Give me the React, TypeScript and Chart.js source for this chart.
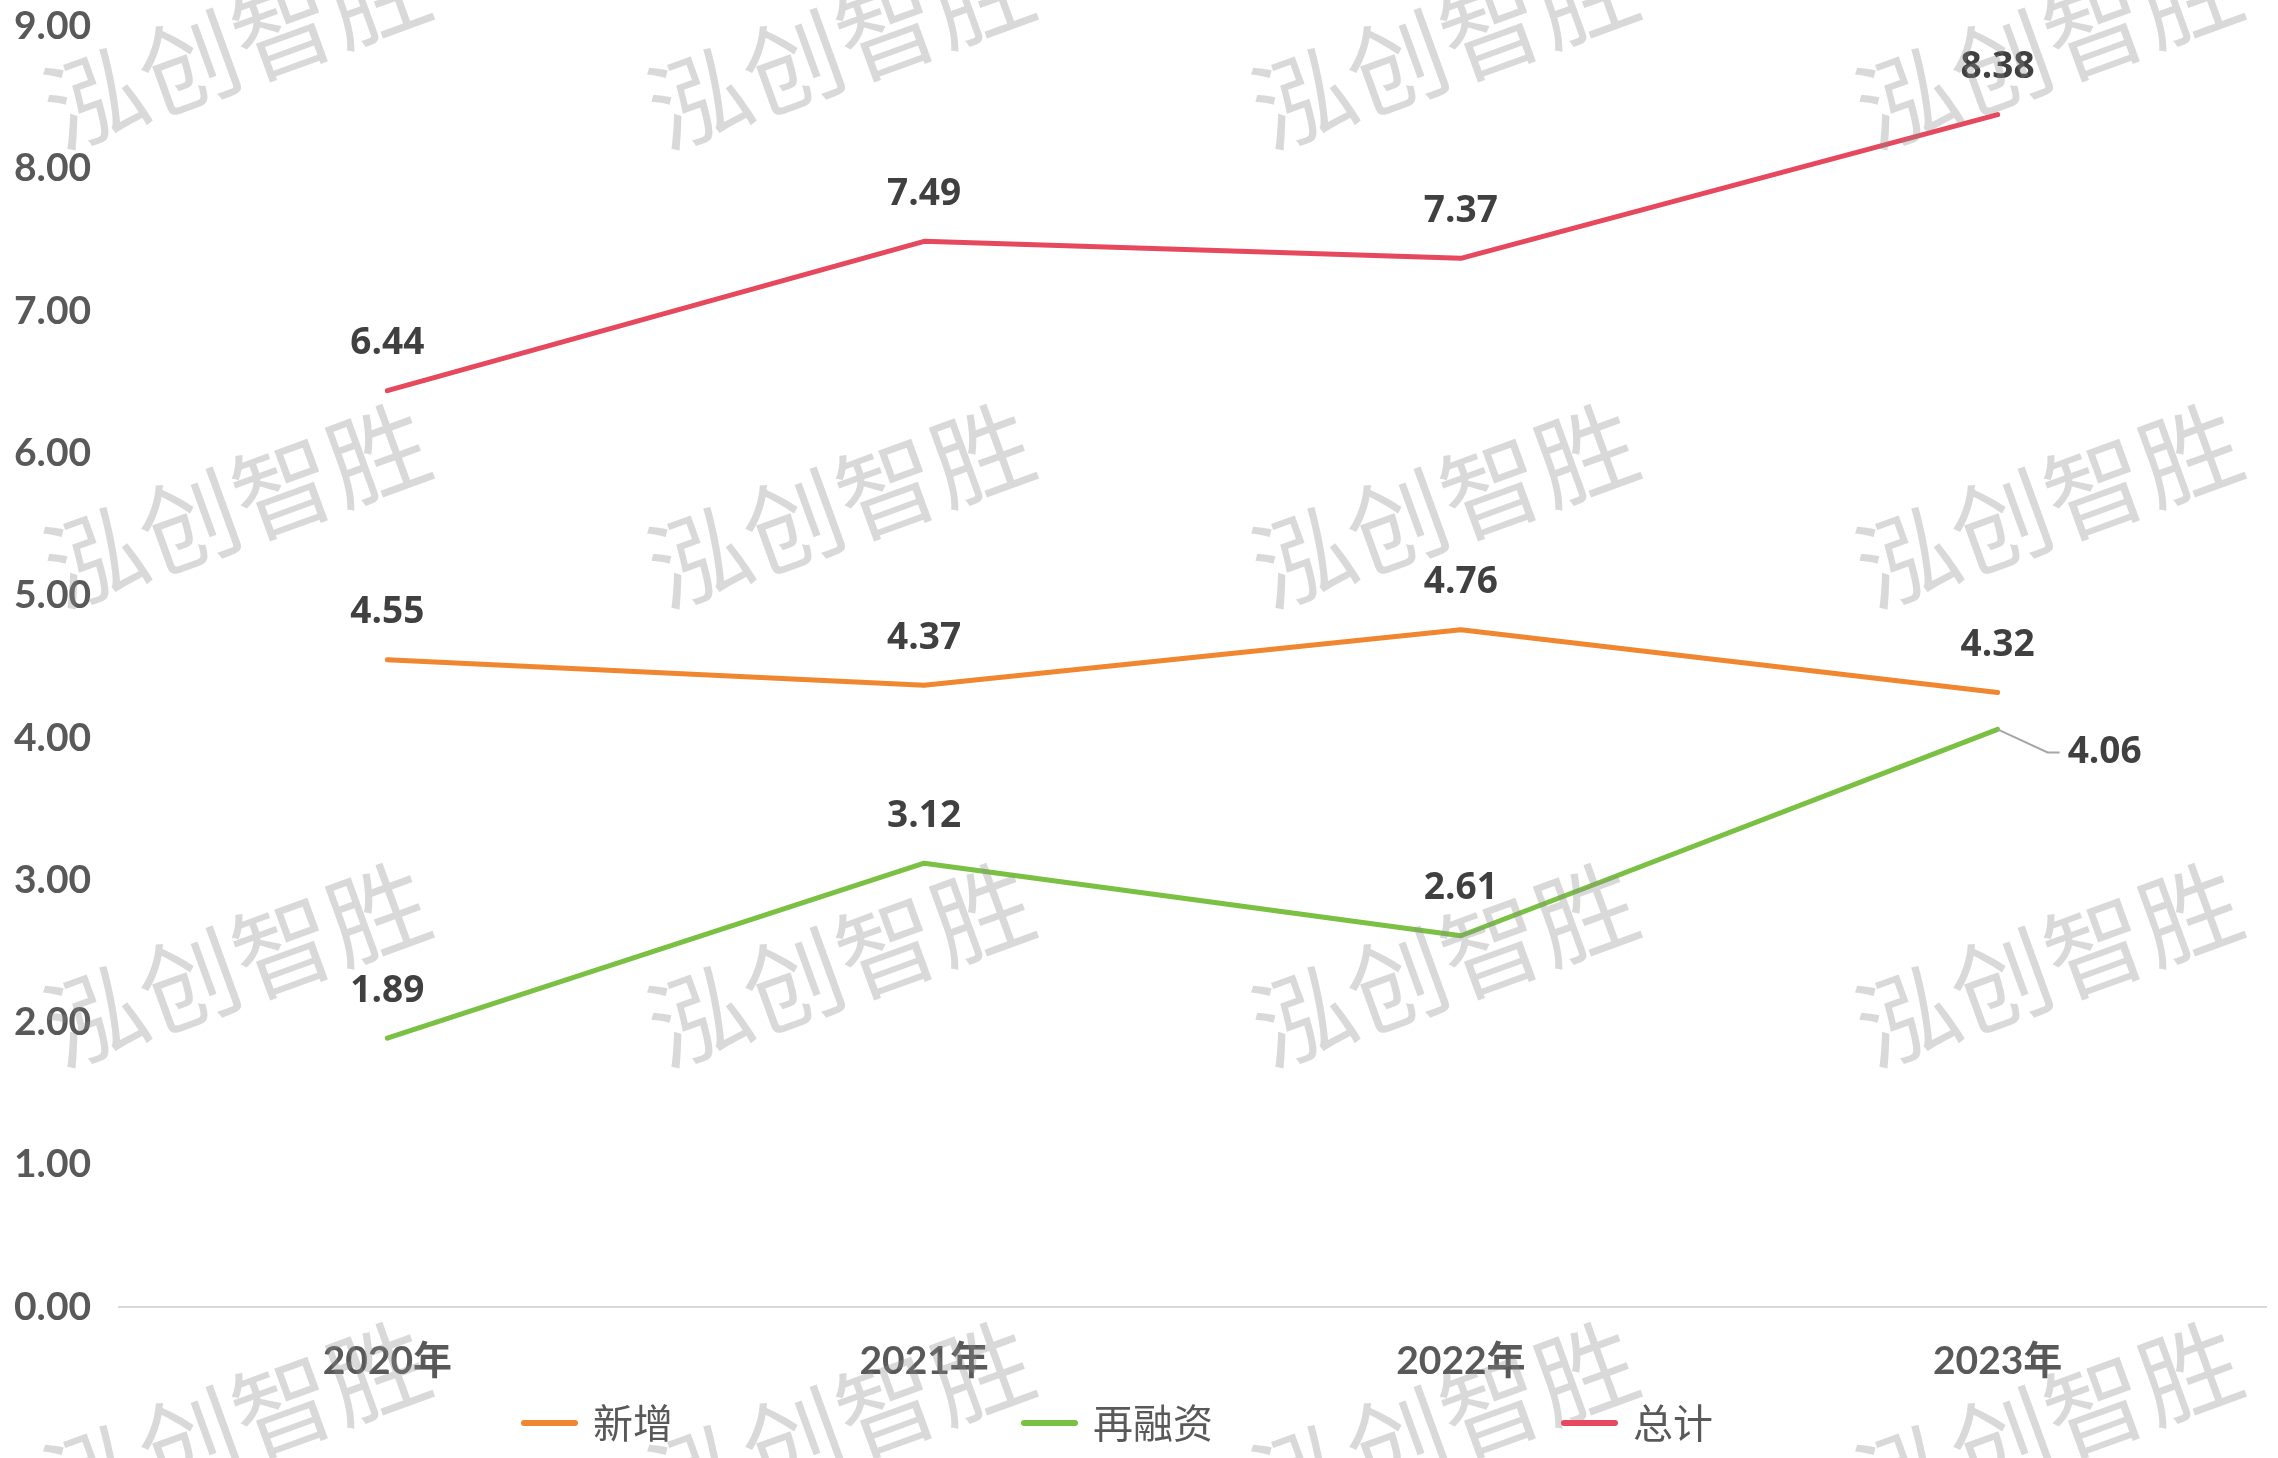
import { useEffect, useRef } from "react"
import { Chart, registerables } from "chart.js"

Chart.register(...registerables)

// 年份
const years = ["2020年", "2021年", "2022年", "2023年"]
// 新增
const newAdded = [4.55, 4.37, 4.76, 4.32]
// 再融资
const refinance = [1.89, 3.12, 2.61, 4.06]
// 总计
const total = [6.44, 7.49, 7.37, 8.38]

const seriesNames = ["新增", "再融资", "总计"]
const seriesColors = ["#F0862F", "#7AC042", "#E6485E"]

const watermarkText = "泓创智胜"

const numFont = "'Open Sans', 'DejaVu Sans', sans-serif"
const axisFont = "Lato, 'Noto Sans CJK SC', sans-serif"
const cjkFont = "'Noto Sans CJK SC', sans-serif"

// value labels above each point; the last 再融资 label sits to the right with a leader line
const valueLabels = {
  id: "valueLabels",
  afterDatasetsDraw(chart: Chart) {
    const ctx = chart.ctx
    ctx.save()
    ctx.font = `bold 37px ${numFont}`
    ctx.fillStyle = "#404040"
    ctx.textBaseline = "middle"
    chart.data.datasets.forEach((ds, i) => {
      const meta = chart.getDatasetMeta(i)
      meta.data.forEach((pt, j) => {
        const v = ds.data[j] as number
        const text = v.toFixed(2)
        if (i === 1 && j === ds.data.length - 1) {
          ctx.strokeStyle = "#A6A6A6"
          ctx.lineWidth = 2
          ctx.beginPath()
          ctx.moveTo(pt.x, pt.y)
          ctx.lineTo(pt.x + 50, pt.y + 23)
          ctx.lineTo(pt.x + 62, pt.y + 23)
          ctx.stroke()
          ctx.textAlign = "left"
          ctx.fillText(text, pt.x + 70, pt.y + 23)
        } else {
          ctx.textAlign = "center"
          ctx.fillText(text, pt.x, pt.y - 47)
        }
      })
    })
    ctx.restore()
  }
}

const bottomLegend = {
  id: "bottomLegend",
  afterDraw(chart: Chart) {
    const ctx = chart.ctx
    ctx.save()
    ctx.font = `40px ${cjkFont}`
    ctx.textBaseline = "middle"
    ctx.textAlign = "left"
    let x = 521
    const y = 1423
    chart.data.datasets.forEach((ds) => {
      ctx.strokeStyle = ds.borderColor as string
      ctx.lineWidth = 6
      ctx.lineCap = "round"
      ctx.beginPath()
      ctx.moveTo(x + 3, y)
      ctx.lineTo(x + 54, y)
      ctx.stroke()
      ctx.fillStyle = "#595959"
      const label = ds.label as string
      ctx.fillText(label, x + 72, y)
      x += 72 + ctx.measureText(label).width + 348
    })
    ctx.restore()
  }
}

const watermark = {
  id: "watermark",
  afterDraw(chart: Chart) {
    const ctx = chart.ctx
    const cols = [236, 840, 1444, 2048]
    const rows = [46, 505, 964, 1423]
    ctx.save()
    ctx.font = `100px ${cjkFont}`
    ctx.fillStyle = "rgba(140,140,140,0.33)"
    ctx.textAlign = "center"
    ctx.textBaseline = "middle"
    rows.forEach((ry) => {
      cols.forEach((cx) => {
        ctx.save()
        ctx.translate(cx, ry)
        ctx.rotate((-20 * Math.PI) / 180)
        ctx.fillText(watermarkText, 0, 0)
        ctx.restore()
      })
    })
    ctx.restore()
  }
}

const LineChart = () => {
  const chartRef = useRef<HTMLCanvasElement>(null)

  useEffect(() => {
    document.body.style.margin = "0"
    if (!chartRef.current) return
    const ctx = chartRef.current.getContext("2d")
    if (!ctx) return
    const seriesData = [newAdded, refinance, total]
    const chart = new Chart(ctx, {
      type: "line",
      data: {
        labels: years,
        datasets: seriesData.map((d, i) => ({
          label: seriesNames[i],
          data: d,
          borderColor: seriesColors[i],
          backgroundColor: seriesColors[i],
          borderWidth: 5,
          pointRadius: 0,
          tension: 0,
          borderCapStyle: "round" as const,
          borderJoinStyle: "round" as const
        }))
      },
      options: {
        animation: false,
        responsive: false,
        devicePixelRatio: 1,
        layout: { padding: { left: 14, right: 12, top: 19, bottom: 50 } },
        plugins: {
          legend: { display: false },
          tooltip: { enabled: false }
        },
        scales: {
          x: {
            offset: true,
            grid: { display: false },
            border: { display: true, color: "#D9D9D9", width: 2 },
            ticks: {
              padding: 23,
              maxRotation: 0,
              color: "#595959",
              font: { family: axisFont, size: 39, weight: "bold" }
            }
          },
          y: {
            min: 0,
            max: 9,
            grid: { display: false },
            border: { display: false },
            afterFit: (scale) => {
              scale.width = 105
            },
            ticks: {
              stepSize: 1,
              crossAlign: "far",
              color: "#595959",
              font: { family: axisFont, size: 39, weight: "bold" },
              callback: (v) => Number(v).toFixed(2)
            }
          }
        }
      },
      plugins: [valueLabels, watermark, bottomLegend]
    })

    return () => {
      chart.destroy()
    }
  }, [])

  return (
    <div style={{ position: "fixed", left: 0, top: 0, width: 2278, height: 1458, background: "#fff" }}>
      <canvas ref={chartRef} width="2278" height="1458" style={{ width: 2278, height: 1458 }}></canvas>
    </div>
  )
}

export default function App() {
  return <LineChart />
}
